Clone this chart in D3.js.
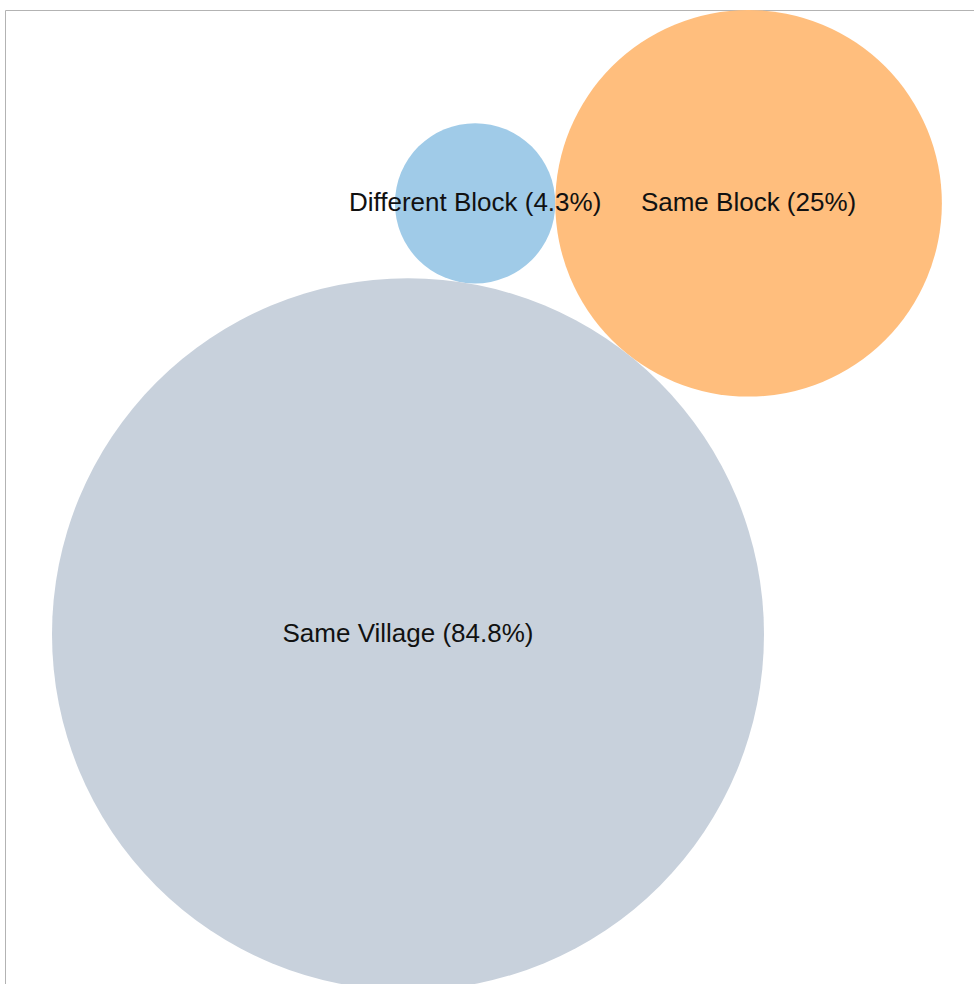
<!DOCTYPE html>
<html>
<head>
<meta charset="utf-8">
<script src="https://cdn.jsdelivr.net/npm/d3@7"></script>
<style>
  html, body { margin: 0; padding: 0; background: #fff; }
  svg { display: block; }
</style>
</head>
<body>
<svg id="chart" width="974" height="984"></svg>
<script>
const categories = ["Different Block", "Same Block", "Same Village"];
const values = [4.3, 25, 84.8];
const valueLabels = ["4.3%", "25%", "84.8%"];

const W = 974, H = 984;
const svg = d3.select("#chart");

const color = d3.scaleOrdinal()
  .domain(categories)
  .range(["#a0cbe8", "#ffbe7d", "#c8d1dc"]);

const r = d3.scaleSqrt().domain([0, d3.max(values)]).range([0, 356]);

const nodes = categories.map((c, i) => ({ name: c, value: values[i], label: valueLabels[i], r: r(values[i]) }));
d3.packSiblings(nodes);

const minX = d3.min(nodes, d => d.x - d.r);
const minY = d3.min(nodes, d => d.y - d.r);
const x = d3.scaleLinear().domain([minX, minX + 1]).range([52, 53]);
const y = d3.scaleLinear().domain([minY, minY + 1]).range([10, 11]);

// frame lines
svg.append("line").attr("x1", 5.5).attr("x2", W).attr("y1", 10.5).attr("y2", 10.5)
  .attr("stroke", "#b3b3b3").attr("stroke-width", 1);
svg.append("line").attr("x1", 5.5).attr("x2", 5.5).attr("y1", 10.5).attr("y2", H)
  .attr("stroke", "#b3b3b3").attr("stroke-width", 1);

const g = svg.append("g");
g.selectAll("circle").data(nodes).join("circle")
  .attr("cx", d => x(d.x))
  .attr("cy", d => y(d.y))
  .attr("r", d => d.r)
  .attr("fill", d => color(d.name));

g.selectAll("text").data(nodes).join("text")
  .attr("x", d => x(d.x))
  .attr("y", d => y(d.y))
  .attr("dy", "0.28em")
  .attr("text-anchor", "middle")
  .attr("font-family", "'Liberation Sans', Arial, sans-serif")
  .attr("font-size", "26px")
  .attr("fill", "#111")
  .text(d => `${d.name} (${d.label})`);
</script>
</body>
</html>
